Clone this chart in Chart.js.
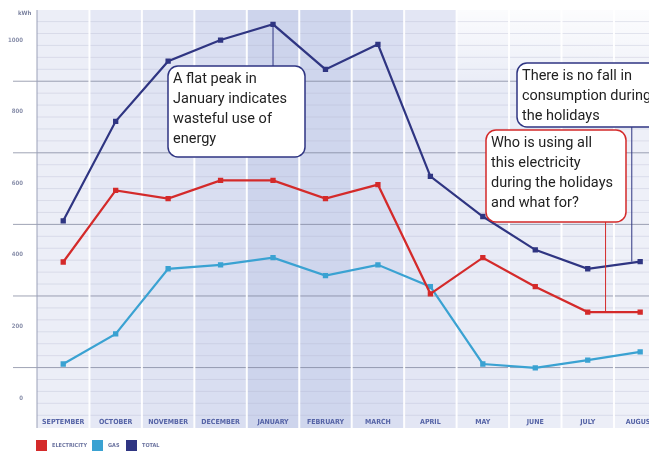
<!DOCTYPE html>
<html>
<head>
<meta charset="utf-8">
<script src="https://cdn.jsdelivr.net/npm/chart.js@4.4.1/dist/chart.umd.min.js"></script>
<style>
  html, body { margin: 0; padding: 0; background: #fff; }
  #wrap { width: 649px; height: 453px; position: relative; }
</style>
</head>
<body>
<div id="wrap"><canvas id="energyChart"></canvas></div>
<script>
// --- chart data ---
const months = ['SEPTEMBER', 'OCTOBER', 'NOVEMBER', 'DECEMBER', 'JANUARY', 'FEBRUARY',
                'MARCH', 'APRIL', 'MAY', 'JUNE', 'JULY', 'AUGUST'];
const electricity = [380, 580, 557, 608, 608, 557, 596, 291, 392, 311, 240, 240];
const gas         = [95, 179, 361, 372, 392, 342, 372, 311, 95, 84, 106, 129];
const total       = [495, 773, 941, 1000, 1044, 918, 988, 619, 507, 414, 361, 381];
const yTicks      = [0, 200, 400, 600, 800, 1000];
const seriesNames = ['ELECTRICITY', 'GAS', 'TOTAL'];

// column shading per month (light -> darker in winter)
const bandColors = ['#eceef7', '#e5e8f5', '#e0e4f3', '#d9def1', '#cdd4ec', '#cfd6ed',
                    '#d9def1', '#e3e6f4', '#e8ebf6', '#eaedf7', '#eceef7', '#eef0f8'];
const RED = '#d42a2a', BLUE = '#3aa2d2', NAVY = '#2f3582';

const toPoints = arr => arr.map((v, i) => ({ x: i, y: v }));

// background bands, grid lines, axis furniture (drawn before the axes)
const backdrop = {
    id: 'backdrop',
    beforeDraw(chart) {
        const { ctx, chartArea: a, scales: { x, y } } = chart;
        const bottom = a.bottom + 25;
        ctx.save();
        months.forEach((m, i) => {
            const l = x.getPixelForValue(i - 0.5), r = x.getPixelForValue(i + 0.5);
            ctx.fillStyle = bandColors[i];
            ctx.fillRect(l, a.top, r - l, bottom - a.top);
        });
        // fade to white at the top right
        const g = ctx.createLinearGradient(0, a.top, 0, a.top + 80);
        g.addColorStop(0, 'rgba(255,255,255,0.85)');
        g.addColorStop(1, 'rgba(255,255,255,0)');
        ctx.fillStyle = g;
        ctx.fillRect(x.getPixelForValue(7.5), a.top, 649, 80);

        // minor + major horizontal lines
        const step = 200 / 6;
        for (let k = 0; k < 40; k++) {
            const v = 85 + (k - 6) * step;
            const py = y.getPixelForValue(v);
            if (py < a.top + 2 || py > a.bottom + 22) continue;
            const major = (k % 6 === 0);
            ctx.strokeStyle = major ? 'rgba(120,125,150,0.7)' : 'rgba(175,180,205,0.4)';
            ctx.lineWidth = major ? 1 : 0.8;
            ctx.beginPath();
            ctx.moveTo(major ? 13 : a.left, py);
            ctx.lineTo(649, py);
            ctx.stroke();
        }
        // white column separators
        ctx.strokeStyle = 'rgba(255,255,255,0.95)';
        ctx.lineWidth = 2;
        for (let i = 0; i < months.length; i++) {
            const px = x.getPixelForValue(i + 0.5);
            ctx.beginPath();
            ctx.moveTo(px, a.top);
            ctx.lineTo(px, bottom);
            ctx.stroke();
        }
        // y axis line
        ctx.strokeStyle = '#9aa0b8';
        ctx.lineWidth = 1;
        ctx.beginPath();
        ctx.moveTo(a.left, a.top);
        ctx.lineTo(a.left, bottom);
        ctx.stroke();
        // unit
        ctx.fillStyle = '#7c83a0';
        ctx.font = 'bold 6px "DejaVu Sans Condensed", "DejaVu Sans"';
        ctx.textAlign = 'left';
        ctx.fillText('kWh', 18, 15);
        ctx.restore();
    }
};

// callouts and legend
const notes = {
    id: 'notes',
    afterDraw(chart) {
        const { ctx, scales: { x, y } } = chart;
        ctx.save();

        const line = (color, x0, y0, y1) => {
            ctx.strokeStyle = color;
            ctx.lineWidth = 1;
            ctx.beginPath();
            ctx.moveTo(x0, y0);
            ctx.lineTo(x0, y1);
            ctx.stroke();
        };
        line(NAVY, x.getPixelForValue(4), y.getPixelForValue(total[4]), 66);
        line(NAVY, x.getPixelForValue(10.84), 127, y.getPixelForValue(total[11]));
        line(RED, x.getPixelForValue(10.34), 222, y.getPixelForValue(electricity[10]));

        const box = (bx, by, bw, bh, color, lines) => {
            ctx.fillStyle = '#fff';
            ctx.strokeStyle = color;
            ctx.lineWidth = 1.5;
            ctx.beginPath();
            ctx.roundRect(bx, by, bw, bh, 10);
            ctx.fill();
            ctx.stroke();
            ctx.fillStyle = '#222';
            ctx.font = '14.5px Roboto, "Liberation Sans", sans-serif';
            ctx.textAlign = 'left';
            ctx.textBaseline = 'middle';
            lines.forEach((t, i) => ctx.fillText(t, bx + 5, by + 13 + i * 20));
        };
        box(168, 66, 137, 91, NAVY, ['A flat peak in', 'January indicates', 'wasteful use of', 'energy']);
        box(517, 63, 150, 64, NAVY, ['There is no fall in', 'consumption during', 'the holidays']);
        box(486, 130, 140, 92, RED, ['Who is using all', 'this electricity', 'during the holidays', 'and what for?']);

        // legend
        const legend = [[RED, 32], [BLUE, 88], [NAVY, 122]];
        ctx.font = 'bold 5.5px "DejaVu Sans Condensed", "DejaVu Sans"';
        ctx.textBaseline = 'middle';
        legend.forEach(([c, lx], i) => {
            ctx.fillStyle = c;
            ctx.fillRect(lx + 4, 440, 11, 11);
            ctx.fillStyle = '#6c74a0';
            ctx.fillText(seriesNames[i], lx + 20, 446);
        });
        ctx.restore();
    }
};

const ds = (label, data, color) => ({
    label, data: toPoints(data),
    borderColor: color, backgroundColor: color,
    borderWidth: 2.2, pointStyle: 'rect', pointRadius: 2.2,
    tension: 0, clip: false
});

new Chart(document.getElementById('energyChart'), {
    type: 'line',
    data: {
        datasets: [
            ds(seriesNames[0], electricity, RED),
            ds(seriesNames[1], gas, BLUE),
            ds(seriesNames[2], total, NAVY)
        ]
    },
    options: {
        responsive: true,
        maintainAspectRatio: false,
        animation: false,
        layout: { padding: { top: 10, bottom: 25, right: 0, left: 0 } },
        plugins: { legend: { display: false }, tooltip: { enabled: false } },
        scales: {
            x: {
                type: 'linear',
                min: -0.5,
                max: 11.05,
                afterFit: s => { s.height = 25; s.paddingRight = 0; s.paddingLeft = 0; },
                afterBuildTicks: s => { s.ticks = months.map((m, i) => ({ value: i })); },
                grid: { display: false },
                border: { display: false },
                ticks: {
                    callback: v => months[v],
                    maxRotation: 0,
                    autoSkip: false,
                    padding: 7,
                    color: '#5563a6',
                    font: { family: '"DejaVu Sans Condensed", "DejaVu Sans"', size: 7, weight: 'bold' }
                }
            },
            y: {
                min: -14,
                max: 1084,
                afterFit: s => { s.width = 37; s.paddingTop = 0; s.paddingBottom = 0; },
                afterBuildTicks: s => { s.ticks = yTicks.map(v => ({ value: v })); },
                grid: { display: false },
                border: { display: false },
                ticks: {
                    callback: v => String(v),
                    padding: 6,
                    color: '#8a90ab',
                    font: { family: '"DejaVu Sans Condensed", "DejaVu Sans"', size: 6, weight: 'bold' }
                }
            }
        }
    },
    plugins: [backdrop, notes]
});
</script>
</body>
</html>
